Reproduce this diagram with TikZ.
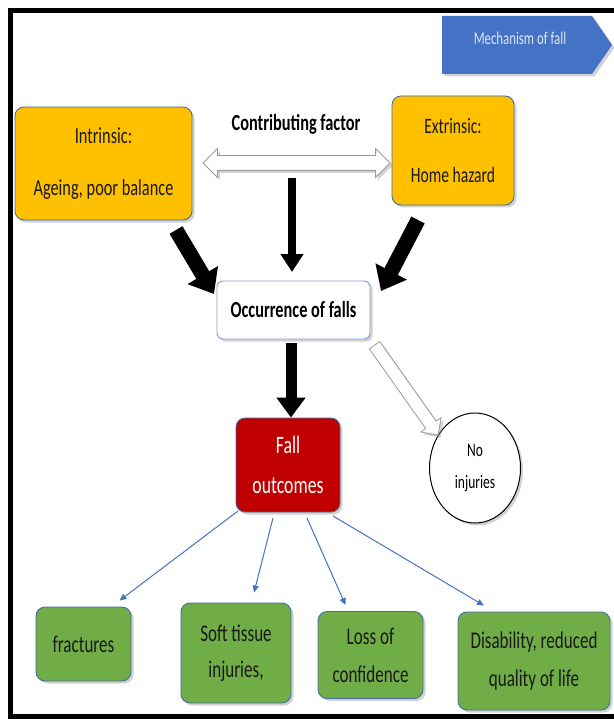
\documentclass[tikz,border=0pt]{standalone}
\usepackage{graphicx}
\usepackage{fontspec}
\setmainfont{Carlito}
\usetikzlibrary{shapes.geometric,shapes.arrows,arrows.meta,shadows,calc}
\definecolor{yel}{HTML}{FFC000}
\definecolor{grn}{HTML}{70AD47}
\definecolor{redb}{HTML}{C00000}
\definecolor{blu}{HTML}{4472C4}
\definecolor{bord}{HTML}{41719C}
\definecolor{lbord}{HTML}{7F9FD6}
\definecolor{mtext}{HTML}{DCE6F7}
\newcommand{\sq}[1]{\scalebox{0.71}[1]{#1}}
\newcommand{\fs}[1]{\fontsize{#1}{1.2\dimexpr #1pt\relax}\selectfont}
\begin{document}
\begin{tikzpicture}[x=1pt,y=-1pt,
  shad/.style={drop shadow={shadow xshift=2.5pt,shadow yshift=-2.5pt,opacity=0.35}},
  rbox/.style={rounded corners=9pt, draw=bord, line width=0.9pt, align=center, shad, inner sep=2pt},
  ybox/.style={rbox, fill=yel, text=black!90},
  gbox/.style={rbox, fill=grn, text=black!90, font=\fs{24}},
  blk/.style={draw=black, line width=#1},
  thin/.style={draw=blu, line width=1pt, -{Triangle[length=7pt,width=6pt]}},
  hollow/.style={draw=black!40, fill=white, line width=0.8pt, inner xsep=0pt, shad}
]
\useasboundingbox (0,0) rectangle (613,719);
\fill[white] (0,0) rectangle (613,719);
\draw[line width=5pt] (620,11) -- (10,11) -- (10,716) -- (620,716);

% title tag
\fill[blu, shad] (442,16) -- (592,16) -- (612,45) -- (592,74) -- (442,74) -- cycle;
\node[text=mtext, font=\fs{18}] (mech) at (520,38) {\sq{Mechanism of fall}};

% factors
\node[ybox, minimum width=177pt, minimum height=113pt, font=\fs{23}] (intr) at (103.5,163.5) {\sq{Intrinsic:}\\[24pt]\sq{Ageing, poor balance}};
\node[ybox, minimum width=122pt, minimum height=109pt, font=\fs{22}] (extr) at (453,150.5) {\sq{Extrinsic:}\\[23pt]\sq{Home hazard}};
\node[font=\bfseries\fs{23}] (cf) at (296,124) {\sq{Contributing factor}};

\node[double arrow, hollow, minimum height=187pt, inner ysep=7pt, double arrow head extend=7pt] (dbl) at (296.5,163) {};

% occurrence
\node[rbox, fill=white, draw=lbord, minimum width=153pt, minimum height=58pt, rounded corners=6pt, font=\bfseries\fs{23}] (occ) at (293.5,310) {\sq{Occurrence of falls}};

\coordinate (ca) at (292,178);
\coordinate (cb) at (292,272);
\draw[blk=8pt, -{Triangle[length=18pt,width=22pt]}] (ca) -- (cb);
\coordinate (la) at (176,230);
\coordinate (lb) at (214,294);
\draw[blk=15pt, -{Triangle[length=22pt,width=34pt]}] (la) -- (lb);
\coordinate (ra) at (418,220);
\coordinate (rb) at (381,291);
\draw[blk=15pt, -{Triangle[length=22pt,width=34pt]}] (ra) -- (rb);

% outcomes
\node[rbox, fill=redb, draw=bord, text=white, minimum width=104pt, minimum height=94pt, font=\fs{25}] (fall) at (288,465) {\sq{Fall}\\[10pt]\sq{outcomes}};
\coordinate (da) at (291,343);
\draw[blk=11pt, -{Triangle[length=20pt,width=28pt]}] (da) -- (fall.north -| da);

\node[ellipse, draw=black, line width=1pt, fill=white, minimum width=91pt, minimum height=110pt, align=center, font=\fs{19}, shad, inner sep=0pt] (noinj) at (475,468) {\sq{No}\\[9pt]\sq{injuries}};

\node[single arrow, hollow, minimum height=110pt, inner ysep=6pt, single arrow head extend=6pt, rotate=-54.7] (hol) at (404.5,387.5) {};

% results
\node[gbox, minimum width=95pt, minimum height=74pt] (frac) at (83.5,644) {\sq{fractures}};
\node[gbox, minimum width=110pt, minimum height=100pt] (soft) at (236,653) {\sq{Soft tissue}\\[7pt]\sq{injuries,}};
\node[gbox, minimum width=105pt, minimum height=87pt] (loss) at (370.5,655) {\sq{Loss of}\\[9pt]\sq{confidence}};
\node[gbox, minimum width=152pt, minimum height=98pt] (dis) at (534,661) {\sq{Disability, reduced}\\[10pt]\sq{quality of life}};

\coordinate (b1) at (238,511);
\coordinate (b2) at (273,518);
\coordinate (b3) at (307,518);
\coordinate (b4) at (333,516);
\draw[thin] (b1) -- ($(frac.north)+(36,-6)$) coordinate (e1);
\draw[thin] (b2) -- ($(soft.north)+(18,-10)$) coordinate (e2);
\draw[thin] (b3) -- ($(loss.north)+(-25,-6)$) coordinate (e3);
\draw[thin] (b4) -- ($(dis.north)+(-50,-6)$) coordinate (e4);
\end{tikzpicture}
\end{document}
